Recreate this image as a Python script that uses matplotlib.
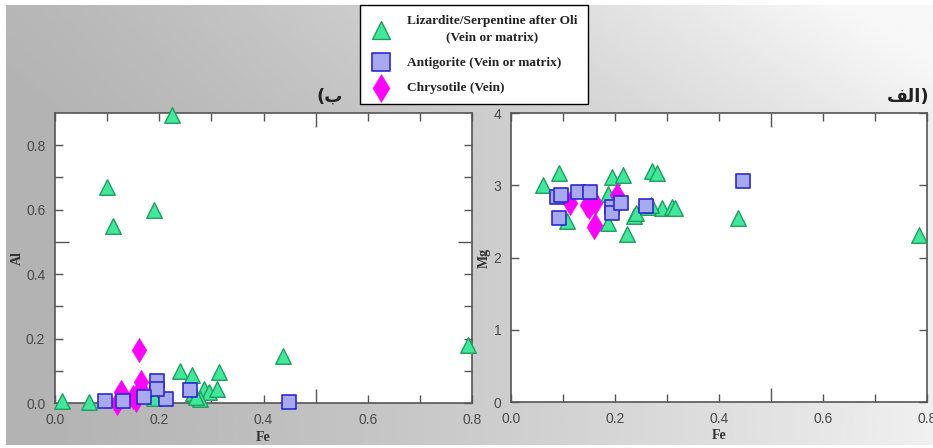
import numpy as np
import matplotlib
matplotlib.use("Agg")
import matplotlib.pyplot as plt
from matplotlib.font_manager import FontProperties
from matplotlib.ticker import FixedLocator, FormatStrFormatter

# ---------------- data ----------------
# Panel (ب): Al vs Fe
liz_fe_al = [0.013, 0.065, 0.099, 0.111, 0.189, 0.224, 0.240, 0.262, 0.314, 0.438, 0.793,
             0.190, 0.265, 0.285, 0.295, 0.311, 0.278, 0.131, 0.270]
liz_al = [0.005, 0.004, 0.669, 0.549, 0.600, 0.893, 0.100, 0.088, 0.095, 0.146, 0.180,
          0.015, 0.030, 0.045, 0.035, 0.042, 0.012, 0.035, 0.020]
ant_fe_al = [0.095, 0.131, 0.195, 0.213, 0.259, 0.448, 0.195, 0.170]
ant_al = [0.006, 0.006, 0.069, 0.011, 0.040, 0.003, 0.045, 0.020]
chr_fe_al = [0.161, 0.165, 0.150, 0.155, 0.160, 0.165, 0.127, 0.118]
chr_al = [0.166, 0.066, 0.020, 0.010, 0.030, 0.045, 0.035, 0.000]

# Panel (الف): Mg vs Fe
liz_fe_mg = [0.062, 0.093, 0.108, 0.187, 0.187, 0.195, 0.215, 0.224, 0.237, 0.240, 0.264,
             0.272, 0.280, 0.290, 0.309, 0.316, 0.437, 0.785, 0.270]
liz_mg = [3.00, 3.165, 2.51, 2.88, 2.48, 3.12, 3.14, 2.33, 2.57, 2.62, 2.70,
          3.20, 3.17, 2.69, 2.70, 2.68, 2.54, 2.31, 2.72]
ant_fe_mg = [0.088, 0.096, 0.092, 0.129, 0.152, 0.194, 0.195, 0.211, 0.259, 0.447]
ant_mg = [2.84, 2.86, 2.54, 2.91, 2.91, 2.70, 2.62, 2.75, 2.71, 3.06]
chr_fe_mg = [0.113, 0.146, 0.150, 0.162, 0.162, 0.204, 0.160]
chr_mg = [2.75, 2.73, 2.70, 2.75, 2.45, 2.87, 2.42]

labels = ["Lizardite/Serpentine after Oli\n(Vein or matrix)",
          "Antigorite (Vein or matrix)",
          "Chrysotile (Vein)"]
title_left = "(\u0628"                       # (ب
title_right = "\uFED2\uFEDF\uFE8D)"          # الف) in visual order

# ---------------- style ----------------
W, H = 933, 448
fig = plt.figure(figsize=(W / 100, H / 100), dpi=100)
fig.patch.set_facecolor("white")

# gray gradient background
bg = fig.add_axes([6 / W, 3 / H, 1 - 6 / W, 1 - 8 / H], zorder=-10)
xx = np.linspace(0, 1, 300)
yy = np.linspace(0, 1, 150)
X, Y = np.meshgrid(xx, yy)
val = 0.70 + 0.24 * X ** 1.3 + 0.05 * np.clip((Y - 0.75) / 0.25, 0, 1) * (0.3 + X)
val = np.clip(val, 0, 0.97)
bg.imshow(val, cmap="gray", vmin=0, vmax=1, aspect="auto", origin="lower",
          extent=[0, 1, 0, 1])
bg.set_axis_off()

tick_font = FontProperties(family="Liberation Sans", size=10)
lab_font = FontProperties(family="Liberation Serif", weight="bold", size=10)
spine_col = "#555555"
tick_col = "#4a4a4a"

sty = dict(
    liz=dict(marker="^", s=125, facecolor="#3fe89b", edgecolor="#1f9e5e", linewidth=1.0),
    ant=dict(marker="s", s=115, facecolor="#a9a9f0", edgecolor="#2a2ad0", linewidth=1.2),
    chr=dict(marker="d", s=150, facecolor="#ff00ff", edgecolor="#ff00ff", linewidth=0.5),
)

axL = fig.add_axes([55 / W, 1 - 403 / H, 417 / W, 290 / H])
axR = fig.add_axes([511 / W, 1 - 402 / H, 416 / W, 289 / H])

def style_axes(ax, ylim, ymajor, yminor, ylabel, ylabel_x, yfmt):
    ax.set_facecolor("white")
    ax.set_xlim(0, 0.8)
    ax.set_ylim(*ylim)
    ax.xaxis.set_major_locator(FixedLocator([0, 0.2, 0.4, 0.6, 0.8]))
    ax.xaxis.set_minor_locator(FixedLocator([0.1, 0.3, 0.5, 0.7]))
    ax.yaxis.set_major_locator(FixedLocator(ymajor))
    if yminor:
        ax.yaxis.set_minor_locator(FixedLocator(yminor))
    ax.xaxis.set_major_formatter(FormatStrFormatter("%.1f"))
    ax.yaxis.set_major_formatter(FormatStrFormatter(yfmt))
    ax.tick_params(which="both", direction="in", top=True, right=True,
                   length=6, width=1.0, color=spine_col, labelcolor=tick_col, pad=7)
    for s in ax.spines.values():
        s.set_color(spine_col)
        s.set_linewidth(1.2)
    ax.set_xlabel("Fe", fontproperties=lab_font, color="#333333")
    ax.xaxis.set_label_coords(0.5, -0.095)
    ax.set_ylabel(ylabel, fontproperties=lab_font, color="#333333")
    ax.yaxis.set_label_coords(ylabel_x, 0.5)

# left panel
style_axes(axL, (0, 0.9), [0, 0.2, 0.4, 0.6, 0.8], [0.1, 0.3, 0.5, 0.7], "Al", -0.074, "%.1f")
hL = axL.scatter(liz_fe_al, liz_al, clip_on=False, zorder=3, **sty["liz"])
hC = axL.scatter(chr_fe_al, chr_al, clip_on=False, zorder=4, **sty["chr"])
hA = axL.scatter(ant_fe_al, ant_al, clip_on=False, zorder=5, **sty["ant"])

# right panel
style_axes(axR, (0, 4), [0, 1, 2, 3, 4], None, "Mg", -0.048, "%d")
axR.scatter(liz_fe_mg, liz_mg, clip_on=False, zorder=3, **sty["liz"])
axR.scatter(chr_fe_mg, chr_mg, clip_on=False, zorder=4, **sty["chr"])
axR.scatter(ant_fe_mg, ant_mg, clip_on=False, zorder=5, **sty["ant"])

for ax in (axL, axR):
    for lab in ax.get_xticklabels() + ax.get_yticklabels():
        lab.set_fontproperties(tick_font)
        lab.set_color(tick_col)
    for t in ax.xaxis.get_minor_ticks():
        if abs(t.get_loc() - 0.5) < 1e-9:
            t.tick1line.set_markersize(10)
            t.tick2line.set_markersize(10)
for t in axL.yaxis.get_minor_ticks():
    if abs(t.get_loc() - 0.5) < 1e-9:
        t.tick1line.set_markersize(10)
        t.tick2line.set_markersize(10)

# titles
tfont = FontProperties(family="DejaVu Sans", weight="bold", size=13)
fig.text(343 / W, 1 - 97 / H, title_left, fontproperties=tfont, ha="right", va="center",
         color="#222222")
fig.text(930 / W, 1 - 97 / H, title_right, fontproperties=tfont, ha="right", va="center",
         color="#222222")

# legend
leg_font = FontProperties(family="Liberation Serif", weight="bold", size=9.6)
leg = fig.legend([hL, hA, hC], labels, loc="upper left",
                 bbox_to_anchor=(360 / W, 1 - 5 / H), prop=leg_font,
                 frameon=True, fancybox=False, edgecolor="black", framealpha=1,
                 borderpad=0.75, labelspacing=1.0, handletextpad=1.2,
                 handlelength=1.6, borderaxespad=0, scatterpoints=1,
                 markerscale=1.15)
leg.get_frame().set_linewidth(1.0)
for txt in leg.get_texts():
    txt.set_multialignment("center")
    txt.set_linespacing(1.45)
    txt.set_color("#222222")

fig.savefig("out.png", dpi=100)
